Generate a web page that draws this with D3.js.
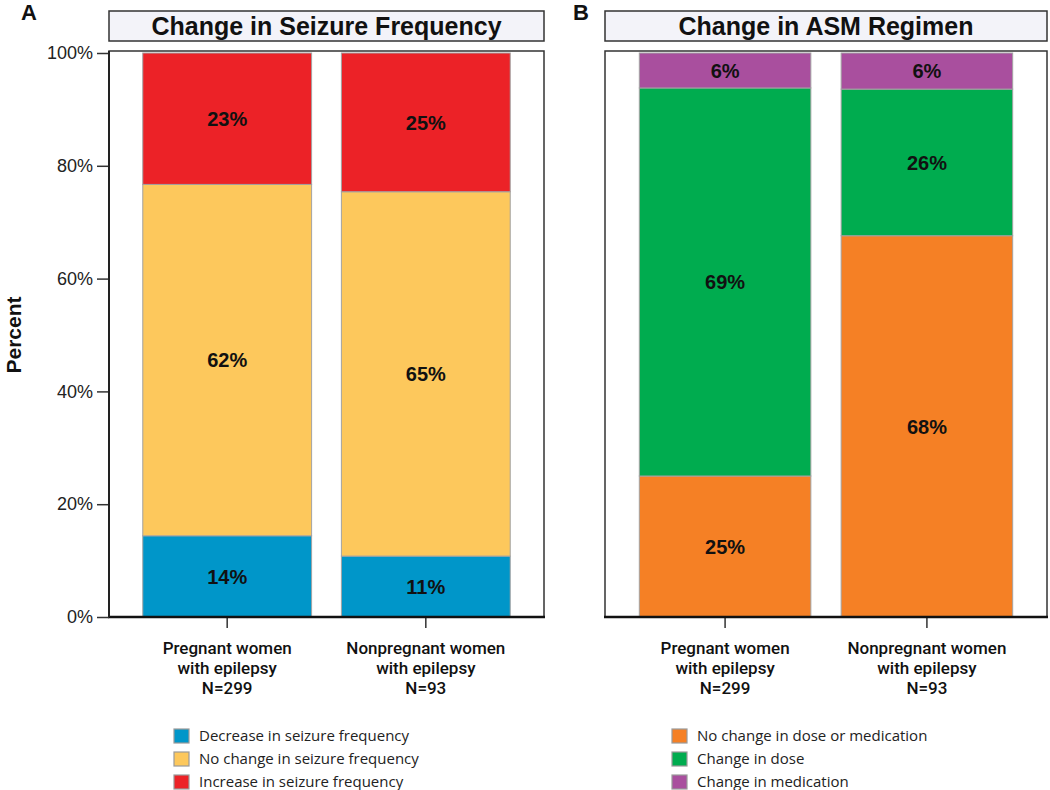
<!DOCTYPE html>
<html>
<head>
<meta charset="utf-8">
<script src="https://cdn.jsdelivr.net/npm/d3@7"></script>
<style>
  html, body { margin: 0; padding: 0; background: #fff; }
  svg { display: block; }
</style>
</head>
<body>
<svg id="chart" width="1050" height="790"></svg>
<script>
// ---------------- DATA ----------------
const categories = ["Pregnant women with epilepsy", "Nonpregnant women with epilepsy"];
const categoryLines = [["Pregnant women", "with epilepsy", "N=299"], ["Nonpregnant women", "with epilepsy", "N=93"]];

const seizureTitle = "Change in Seizure Frequency";
const seizureSeries = ["Decrease in seizure frequency", "No change in seizure frequency", "Increase in seizure frequency"];
const seizureDecrease = [14.4, 10.8];
const seizureNoChange = [62.3, 64.6];
const seizureIncrease = [23.3, 24.6];

const asmTitle = "Change in ASM Regimen";
const asmSeries = ["No change in dose or medication", "Change in dose", "Change in medication"];
const asmNoChange = [25.0, 67.6];
const asmDose = [68.8, 26.0];
const asmMedication = [6.2, 6.4];

const yTicks = [0, 20, 40, 60, 80, 100];
const yLabel = "Percent";
const panelLetters = ["A", "B"];

// ---------------- STYLE / LAYOUT ----------------
const seizureColors = ["#0096c9", "#fdc85c", "#ec2227"];
const asmColors = ["#f58025", "#00ac4f", "#a94f9e"];

const svg = d3.select("#chart");
const yTop = 51, yBottom = 617;
const y = d3.scaleLinear().domain([0, 100]).range([yBottom, 53]);

function buildRows(seriesNames, arrays) {
  return categories.map((c, i) => {
    const row = { category: c };
    seriesNames.forEach((s, k) => { row[s] = arrays[k][i]; });
    return row;
  });
}

const panels = [
  { letter: panelLetters[0], title: seizureTitle, series: seizureSeries, colors: seizureColors,
    rows: buildRows(seizureSeries, [seizureDecrease, seizureNoChange, seizureIncrease]),
    x0: 109, x1: 544, letterX: 21, showY: true, legendX: 174 },
  { letter: panelLetters[1], title: asmTitle, series: asmSeries, colors: asmColors,
    rows: buildRows(asmSeries, [asmNoChange, asmDose, asmMedication]),
    x0: 605, x1: 1047, letterX: 573, showY: false, legendX: 672 }
];

const fmt = v => d3.format(".0f")(v) + "%";

panels.forEach(p => {
  const g = svg.append("g");
  const x = d3.scaleBand().domain(categories).range([p.x0, p.x1])
    .paddingInner(0.15).paddingOuter(0.17);
  const color = d3.scaleOrdinal().domain(p.series).range(p.colors);
  const stacked = d3.stack().keys(p.series)(p.rows);

  // panel letter
  g.append("text").attr("x", p.letterX).attr("y", 20)
    .attr("font-family", "Liberation Sans, Arial, sans-serif")
    .attr("font-weight", "bold").attr("font-size", 22).attr("fill", "#111")
    .text(p.letter);

  // title box
  g.append("rect").attr("x", p.x0).attr("y", 11).attr("width", p.x1 - p.x0).attr("height", 30)
    .attr("fill", "#f3f3f9").attr("stroke", "#333").attr("stroke-width", 1.5);
  g.append("text").attr("x", (p.x0 + p.x1) / 2).attr("y", 35)
    .attr("text-anchor", "middle")
    .attr("font-family", "Liberation Sans, Arial, sans-serif")
    .attr("font-weight", "bold").attr("font-size", 25).attr("fill", "#111")
    .text(p.title);

  // plot frame
  g.append("rect").attr("x", p.x0).attr("y", yTop).attr("width", p.x1 - p.x0).attr("height", yBottom - yTop)
    .attr("fill", "#fff").attr("stroke", "#333").attr("stroke-width", 1.5);

  // bars
  const layers = g.append("g").selectAll("g").data(stacked).join("g")
    .attr("fill", d => color(d.key));
  layers.selectAll("rect").data(d => d).join("rect")
    .attr("x", d => x(d.data.category))
    .attr("width", x.bandwidth())
    .attr("y", d => y(d[1]))
    .attr("height", d => y(d[0]) - y(d[1]))
    .attr("stroke", "#a3a3a3").attr("stroke-width", 1);

  // value labels
  const labG = g.append("g");
  stacked.forEach(layer => {
    layer.forEach(d => {
      labG.append("text")
        .attr("x", x(d.data.category) + x.bandwidth() / 2)
        .attr("y", (y(d[0]) + y(d[1])) / 2)
        .attr("dy", "0.36em")
        .attr("text-anchor", "middle")
        .attr("font-family", "Liberation Sans, Arial, sans-serif")
        .attr("font-weight", "bold").attr("font-size", 20).attr("fill", "#111")
        .text(fmt(d[1] - d[0]));
    });
  });

  // bottom axis
  const xAxis = g.append("g").attr("transform", `translate(0,${yBottom})`)
    .call(d3.axisBottom(x).tickSize(11).tickFormat(""));
  xAxis.select(".domain").remove();
  xAxis.selectAll(".tick line").attr("stroke", "#333").attr("stroke-width", 1.5);
  g.append("line").attr("x1", p.x0 - 1).attr("x2", p.x1 + 1).attr("y1", yBottom).attr("y2", yBottom)
    .attr("stroke", "#111").attr("stroke-width", 2.5);

  // category labels (one text per line)
  categories.forEach((c, i) => {
    categoryLines[i].forEach((line, k) => {
      g.append("text")
        .attr("x", x(c) + x.bandwidth() / 2).attr("y", 654 + k * 20)
        .attr("text-anchor", "middle")
        .attr("font-family", "Roboto, sans-serif")
        .attr("font-weight", 500).attr("font-size", 17).attr("fill", "#111")
        .text(line);
    });
  });

  // y axis
  if (p.showY) {
    const yAxis = g.append("g").attr("transform", `translate(${p.x0},0)`)
      .call(d3.axisLeft(y).tickValues(yTicks).tickSize(12).tickPadding(4).tickFormat(d => d + "%"));
    yAxis.select(".domain").remove();
    yAxis.selectAll(".tick line").attr("stroke", "#333").attr("stroke-width", 1.5);
    yAxis.selectAll(".tick text")
      .attr("font-family", "Liberation Sans, Arial, sans-serif")
      .attr("font-size", 18).attr("fill", "#222");
    g.append("line").attr("x1", p.x0).attr("x2", p.x0).attr("y1", yTop).attr("y2", yBottom)
      .attr("stroke", "#222").attr("stroke-width", 2);
    g.append("text")
      .attr("transform", `translate(21,${(yTop + yBottom) / 2 + 1}) rotate(-90)`)
      .attr("text-anchor", "middle")
      .attr("font-family", "Liberation Sans, Arial, sans-serif")
      .attr("font-weight", "bold").attr("font-size", 21).attr("fill", "#111")
      .text(yLabel);
  }

  // legend
  const leg = g.append("g");
  p.series.forEach((s, k) => {
    const cy = 736 + k * 23;
    leg.append("rect").attr("x", p.legendX).attr("y", cy - 7).attr("width", 15).attr("height", 14)
      .attr("fill", color(s)).attr("stroke", "#9a9a9a").attr("stroke-width", 1.2);
    leg.append("text").attr("x", p.legendX + 25).attr("y", cy).attr("dy", "0.35em")
      .attr("font-family", "Open Sans, sans-serif").attr("font-size", 15).attr("fill", "#222")
      .text(s);
  });
});
</script>
</body>
</html>
